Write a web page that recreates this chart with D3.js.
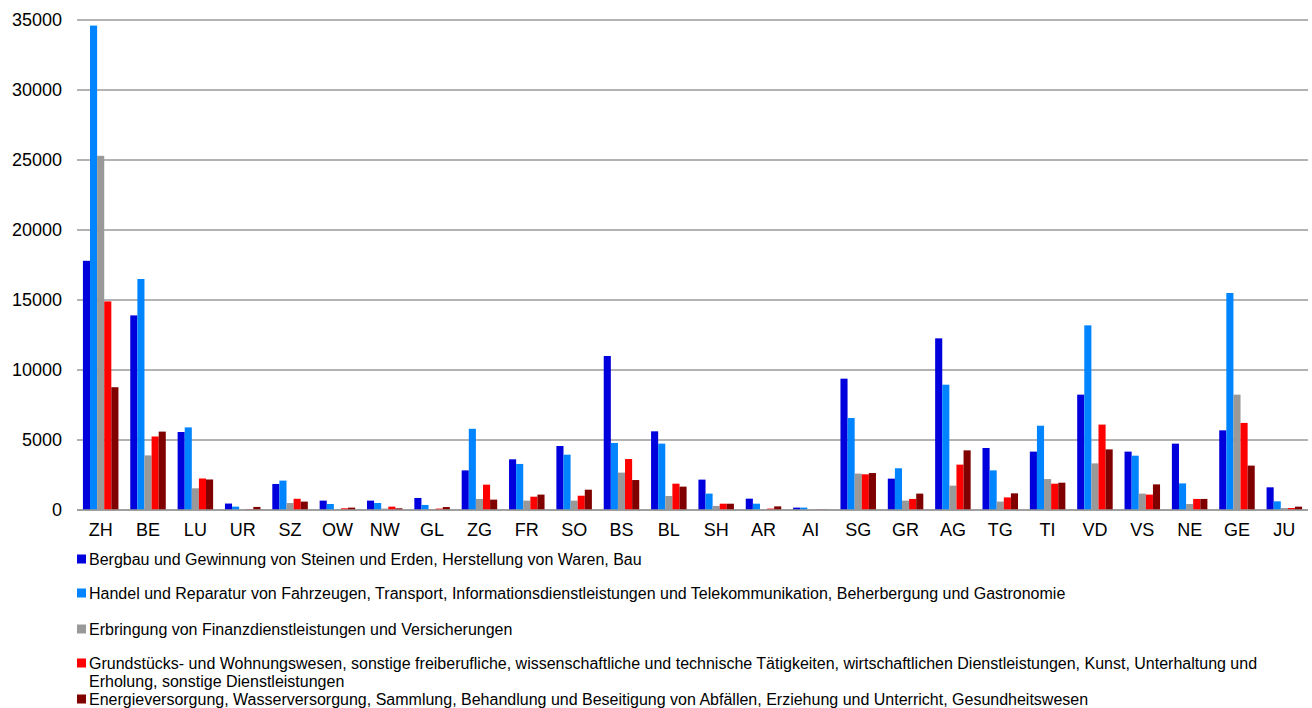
<!DOCTYPE html>
<html>
  <head>
    <meta charset="utf-8">
    <title>Kantone nach Wirtschaftsbereichen</title>
    <style>
      body { margin: 0; background: #fff; }
      svg { display: block; font-family: "Liberation Sans", Arial, sans-serif; }
      .tick text { fill: #000; }
      .legend text { font-size: 16px; fill: #000; }
    </style>
  </head>
  <body>
    <div id="chart"></div>
    <script src="https://d3js.org/d3.v7.min.js"></script>
    <script>
    // cantons along the x axis
    var cantons = ['ZH','BE','LU','UR','SZ','OW','NW','GL','ZG','FR','SO','BS','BL',
                   'SH','AR','AI','SG','GR','AG','TG','TI','VD','VS','NE','GE','JU'];

    // one array per sector, same order as cantons
    var bergbau   = [17800,13900,5570,460,1860,670,670,860,2830,3620,4570,11000,5620,
                     2170,810,170,9380,2240,12260,4430,4170,8240,4170,4740,5690,1620];
    var handel    = [34600,16500,5900,240,2100,430,500,360,5800,3290,3950,4790,4740,
                     1170,450,170,6570,2980,8950,2830,6020,13190,3880,1900,15500,620];
    var finanz    = [25300,3900,1550,20,500,20,100,70,790,670,670,2670,1000,
                     290,50,10,2600,670,1740,600,2210,3330,1170,430,8240,140];
    var grund     = [14900,5250,2250,50,800,120,240,100,1810,950,1020,3640,1880,
                     450,100,20,2550,790,3240,900,1880,6100,1100,790,6220,140];
    var energie   = [8770,5600,2180,220,600,170,120,210,740,1100,1450,2140,1670,
                     450,260,20,2640,1170,4260,1190,1950,4330,1830,790,3170,240];

    var seriesNames = [
      'Bergbau und Gewinnung von Steinen und Erden, Herstellung von Waren, Bau',
      'Handel und Reparatur von Fahrzeugen, Transport, Informationsdienstleistungen und Telekommunikation, Beherbergung und Gastronomie',
      'Erbringung von Finanzdienstleistungen und Versicherungen',
      ['Grundstücks- und Wohnungswesen, sonstige freiberufliche, wissenschaftliche und technische Tätigkeiten, wirtschaftlichen Dienstleistungen, Kunst, Unterhaltung und',
       'Erholung, sonstige Dienstleistungen'],
      'Energieversorgung, Wasserversorgung, Sammlung, Behandlung und Beseitigung von Abfällen, Erziehung und Unterricht, Gesundheitswesen'
    ];
    var seriesValues = [bergbau, handel, finanz, grund, energie];
    var colors = ['#0000dd', '#0084ff', '#999999', '#ff0000', '#800000'];
    var yTicks = [0, 5000, 10000, 15000, 20000, 25000, 30000, 35000];

    var width = 1312, height = 708;
    var plotLeft = 77, plotRight = 1308, plotTop = 20, plotBottom = 510;

    var svg = d3.select('#chart').append('svg')
      .attr('width', width)
      .attr('height', height);

    var x = d3.scaleBand()
      .domain(cantons)
      .range([plotLeft, plotRight])
      .paddingInner(0.25)
      .paddingOuter(0.125);

    var xs = d3.scaleBand()
      .domain(d3.range(seriesValues.length))
      .range([0, x.bandwidth()]);

    var y = d3.scaleLinear()
      .domain([0, 35000])
      .range([plotBottom, plotTop]);

    // gridlines
    svg.append('g')
      .selectAll('line')
      .data(yTicks)
      .enter().append('line')
      .attr('x1', plotLeft)
      .attr('x2', plotRight)
      .attr('y1', function(d) { return y(d); })
      .attr('y2', function(d) { return y(d); })
      .attr('stroke', '#9a9a9a')
      .attr('stroke-width', 1.5);

    // y axis labels
    var yAxis = svg.append('g')
      .attr('transform', 'translate(' + 62 + ',0)')
      .call(d3.axisLeft(y).tickValues(yTicks).tickSize(0).tickPadding(0).tickFormat(d3.format('d')));
    yAxis.select('.domain').remove();
    yAxis.selectAll('text').style('font-size', '18px');

    // bars
    var groups = svg.append('g')
      .selectAll('g')
      .data(cantons)
      .enter().append('g')
      .attr('transform', function(d) { return 'translate(' + x(d) + ',0)'; });

    groups.selectAll('rect')
      .data(function(d, i) {
        return seriesValues.map(function(s, k) { return { k: k, v: s[i] }; });
      })
      .enter().append('rect')
      .attr('x', function(d) { return xs(d.k); })
      .attr('width', xs.bandwidth())
      .attr('y', function(d) { return y(d.v); })
      .attr('height', function(d) { return plotBottom - y(d.v); })
      .attr('fill', function(d) { return colors[d.k]; });

    // baseline again on top
    svg.append('line')
      .attr('x1', plotLeft).attr('x2', plotRight)
      .attr('y1', plotBottom).attr('y2', plotBottom)
      .attr('stroke', '#9a9a9a').attr('stroke-width', 1.5);

    // x axis labels
    var xAxis = svg.append('g')
      .attr('transform', 'translate(0,' + 523 + ')')
      .call(d3.axisBottom(x).tickSize(0).tickPadding(0));
    xAxis.select('.domain').remove();
    xAxis.selectAll('text').style('font-size', '18px');

    // legend
    var legendRows = [559, 593, 629, 663, 699];
    var legend = svg.append('g').attr('class', 'legend');
    seriesNames.forEach(function(name, i) {
      var lines = Array.isArray(name) ? name : [name];
      legend.append('rect')
        .attr('x', 77).attr('y', legendRows[i] - 4.5)
        .attr('width', 9).attr('height', 9)
        .attr('fill', colors[i]);
      lines.forEach(function(line, j) {
        legend.append('text')
          .attr('x', 89)
          .attr('y', legendRows[i] + j * 18.5)
          .attr('dy', '0.35em')
          .text(line);
      });
    });
    </script>
  </body>
</html>
